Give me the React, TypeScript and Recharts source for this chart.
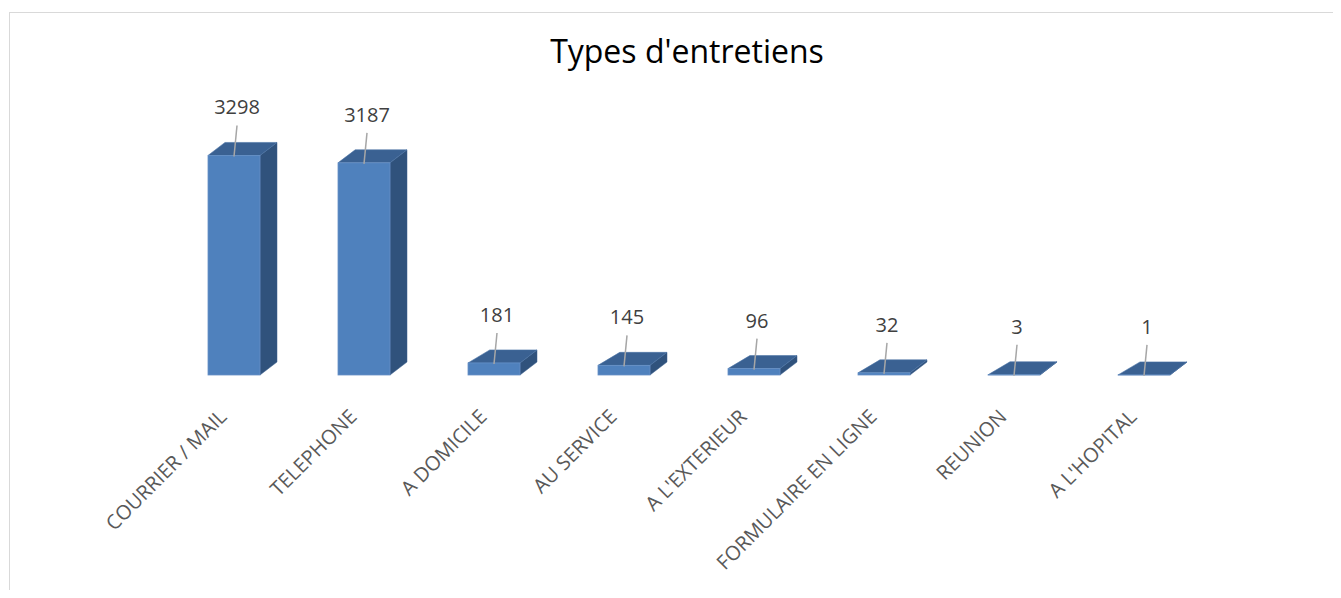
import React from 'react';
import { BarChart, Bar, XAxis, YAxis, LabelList } from 'recharts';

const categories = [
  'COURRIER / MAIL',
  'TELEPHONE',
  'A DOMICILE',
  'AU SERVICE',
  "A L'EXTERIEUR",
  'FORMULAIRE EN LIGNE',
  'REUNION',
  "A L'HOPITAL",
];
const counts = [3298, 3187, 181, 145, 96, 32, 3, 1];
const data = categories.map((name, i) => ({ name, value: counts[i] }));

const FONT = '"Open Sans", "DejaVu Sans", sans-serif';
const DEPTH_Y = 13;
const DEPTH_XR = 17;

const Bar3D = (props: any) => {
  const { x, y, width, height } = props;
  const h = Math.max(0, height);
  const dxL = DEPTH_XR + 5 * Math.max(0, 1 - h / 220);
  const dxR = DEPTH_XR;
  const top = `${x},${y} ${x + dxL},${y - DEPTH_Y} ${x + width + dxR},${y - DEPTH_Y} ${x + width},${y}`;
  const side = `${x + width},${y} ${x + width + dxR},${y - DEPTH_Y} ${x + width + dxR},${y + h - DEPTH_Y} ${x + width},${y + h}`;
  return (
    <g>
      <polygon points={side} fill="#30527c" stroke="#3a5f8c" strokeWidth={0.5} />
      <polygon points={top} fill="#3a6192" stroke="#4a72a4" strokeWidth={0.6} />
      <rect x={x} y={y} width={width} height={h} fill="#4f81bd" stroke="#6690c6" strokeWidth={0.8} />
    </g>
  );
};

const ValueLabel = (props: any) => {
  const { x, y, width, value } = props;
  const cx = x + width / 2;
  const tx = cx + 3;
  return (
    <g>
      <line x1={cx} y1={y + 1} x2={tx} y2={y - 30} stroke="#a6a6a6" strokeWidth={1.5} />
      <text x={tx} y={y - 41} textAnchor="middle" fill="#404040" fontSize={20} fontFamily={FONT}>
        {value}
      </text>
    </g>
  );
};

const CategoryTick = (props: any) => {
  const { x, y, payload } = props;
  return (
    <g transform={`translate(${x - 6},${y + 43})`}>
      <text x={0} y={0} textAnchor="end" transform="rotate(-45)" fill="#595959" fontSize={20} fontFamily={FONT}>
        {payload.value}
      </text>
    </g>
  );
};

export default function App() {
  return (
    <div style={{ position: 'relative', width: 1333, height: 582, overflow: 'hidden', background: '#fff' }}>
      <div
        style={{
          position: 'absolute',
          left: 1,
          top: 4,
          width: 1400,
          height: 700,
          border: '1.5px solid #d9d9d9',
          boxSizing: 'border-box',
        }}
      />
      <div
        style={{
          position: 'absolute',
          left: 0,
          width: 1358,
          top: 21,
          textAlign: 'center',
          fontFamily: FONT,
          fontSize: 32,
          color: '#000',
          whiteSpace: 'nowrap',
        }}
      >
        Types d'entretiens
      </div>
      <div style={{ position: 'absolute', left: 0, top: 0 }}>
        <BarChart
          width={1325}
          height={582}
          data={data}
          margin={{ top: 134, right: 124, left: 161, bottom: 0 }}
          barCategoryGap="30%"
        >
          <XAxis
            dataKey="name"
            height={215}
            axisLine={false}
            tickLine={false}
            tickSize={0}
            tickMargin={0}
            interval={0}
            tick={<CategoryTick />}
          />
          <YAxis hide domain={[0, 3500]} />
          <Bar dataKey="value" shape={<Bar3D />} isAnimationActive={false}>
            <LabelList dataKey="value" content={<ValueLabel />} />
          </Bar>
        </BarChart>
      </div>
    </div>
  );
}
